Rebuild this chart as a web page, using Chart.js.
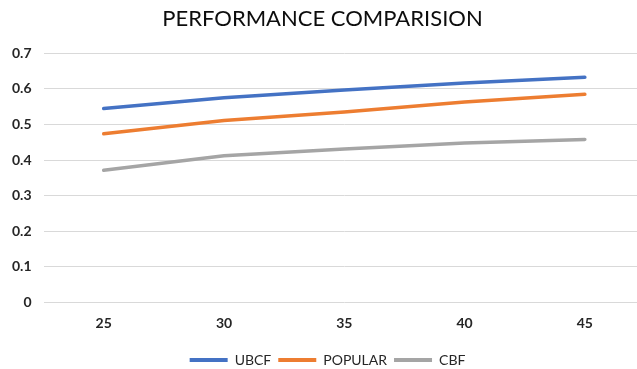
<!DOCTYPE html>
<html>
<head>
<meta charset="utf-8">
<script src="https://cdn.jsdelivr.net/npm/chart.js@4.4.1/dist/chart.umd.min.js"></script>
<style>
  html, body { margin: 0; padding: 0; background: #ffffff; overflow: hidden; }
  #wrap { width: 650px; height: 369px; position: relative; }
</style>
</head>
<body>
<div id="wrap"><canvas id="chart"></canvas></div>
<script>
// Categories (x axis) and the three series
const categories = ['25', '30', '35', '40', '45'];
const ubcf    = [0.545, 0.575, 0.597, 0.617, 0.633];
const popular = [0.474, 0.511, 0.535, 0.563, 0.585];
const cbf     = [0.371, 0.412, 0.431, 0.448, 0.458];
const seriesNames = ['UBCF', 'POPULAR', 'CBF'];
const yTicks = [0, 0.1, 0.2, 0.3, 0.4, 0.5, 0.6, 0.7];

const colors = ['#4472C4', '#ED7D31', '#A5A5A5'];
const textColor = '#262626';
const fontFamily = 'Lato, "Liberation Sans", Arial, sans-serif';

function series(name, data, color) {
  return {
    label: name,
    data: data,
    borderColor: color,
    backgroundColor: color,
    borderWidth: 3.5,
    pointRadius: 0,
    pointHoverRadius: 0,
    tension: 0,
    fill: false,
    borderCapStyle: 'round'
  };
}

// Nudges the legend row right of the canvas centre and a little lower
const legendShift = {
  id: 'legendShift',
  afterLayout(chart) {
    const lg = chart.legend;
    if (lg) {
      lg.left += 5; lg.right += 5;
      lg.top += 9; lg.bottom += 9;
    }
  }
};

new Chart(document.getElementById('chart'), {
  type: 'line',
  data: {
    labels: categories,
    datasets: [
      series(seriesNames[0], ubcf, colors[0]),
      series(seriesNames[1], popular, colors[1]),
      series(seriesNames[2], cbf, colors[2])
    ]
  },
  options: {
    responsive: true,
    maintainAspectRatio: false,
    animation: false,
    layout: { padding: { left: 0, right: 5, top: 6, bottom: 1 } },
    plugins: {
      title: {
        display: true,
        text: 'PERFORMANCE COMPARISION',
        color: '#0d0d0d',
        font: { family: fontFamily, size: 22, weight: 'normal' },
        padding: { top: 0, bottom: 21 }
      },
      legend: {
        position: 'bottom',
        labels: {
          color: textColor,
          font: { family: fontFamily, size: 14 },
          boxWidth: 38,
          boxHeight: 4,
          padding: 7,
          generateLabels(chart) {
            const items = Chart.defaults.plugins.legend.labels.generateLabels(chart);
            items.forEach(it => { it.lineWidth = 0; });
            return items;
          }
        }
      },
      tooltip: { enabled: false }
    },
    scales: {
      x: {
        offset: true,
        grid: { display: false },
        border: { display: false },
        ticks: {
          color: textColor,
          font: { family: fontFamily, size: 14, weight: 'bold' },
          padding: 5,
          maxRotation: 0
        }
      },
      y: {
        min: 0,
        max: 0.7,
        afterBuildTicks(scale) {
          scale.ticks = yTicks.map(v => ({ value: v }));
        },
        grid: { color: '#d9d9d9', lineWidth: 1, drawTicks: false },
        border: { display: false },
        ticks: {
          color: textColor,
          font: { family: fontFamily, size: 14, weight: 'bold' },
          padding: 12,
          callback: v => String(Math.round(v * 10) / 10)
        }
      }
    }
  },
  plugins: [legendShift]
});
</script>
</body>
</html>
